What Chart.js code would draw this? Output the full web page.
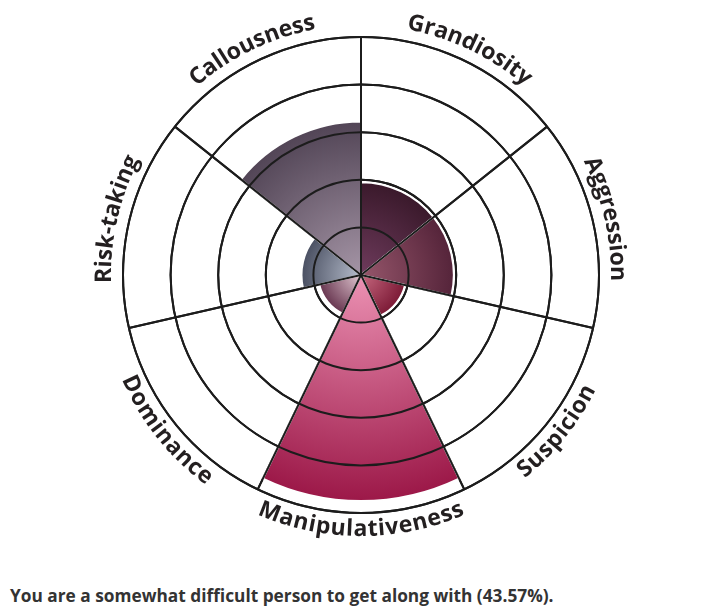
<!DOCTYPE html>
<html><head><meta charset="utf-8">
<script src="https://cdn.jsdelivr.net/npm/chart.js@4"></script>
<style>
html,body{margin:0;padding:0;background:#fff;}
#wrap{position:absolute;left:0;top:0;width:713px;height:570px;}
#caption{position:absolute;left:10px;top:585px;margin:0;font:700 17.3px/22px "Open Sans",sans-serif;color:#333;white-space:nowrap;}
</style></head><body>
<div id="wrap"><canvas id="c"></canvas></div>
<p id="caption">You are a somewhat difficult person to get along with (43.57%).</p>
<script>
const categories = ['Grandiosity','Aggression','Suspicion','Manipulativeness','Dominance','Risk-taking','Callousness'];
const scores = [39, 39, 19, 95, 18, 25, 64.5];
const ringTicks = [0, 20, 40, 60, 80, 100];
const innerColors = ['#6e3b5c','#96566b','#c6687f','#ec92b4','#e2c8d2','#b6bdcc','#a595a6'];
const outerColors = ['#3a192b','#55243a','#7c1a36','#9c1848','#683650','#4a5062','#524556'];

function sectorFill(ctx) {
  const i = ctx.dataIndex;
  const chart = ctx.chart;
  const s = chart.scales && chart.scales.r;
  if (i === undefined) return outerColors[0];
  if (!s || !chart.chartArea || s.xCenter === undefined) return outerColors[i];
  const r = Math.max(1, s.getDistanceFromCenterForValue(scores[i]));
  const g = chart.ctx.createRadialGradient(s.xCenter, s.yCenter, 0, s.xCenter, s.yCenter, r);
  g.addColorStop(0, innerColors[i]);
  g.addColorStop(1, outerColors[i]);
  return g;
}

// draw the radial grid again on top of the filled sectors
const gridOnTop = {
  id: 'gridOnTop',
  afterDatasetsDraw(chart) {
    const s = chart.scales.r;
    const ctx = chart.ctx;
    ctx.save();
    if (typeof s.drawGrid === 'function') {
      s.drawGrid();
    }
    ctx.restore();
  }
};

const curvedLabels = {
  id: 'curvedLabels',
  afterDraw(chart) {
    const s = chart.scales.r;
    const ctx = chart.ctx;
    const n = chart.data.labels.length;
    const half = Math.PI / n;
    ctx.save();
    ctx.font = '700 23px "Open Sans"';
    ctx.fillStyle = '#231f20';
    ctx.textAlign = 'center';
    ctx.textBaseline = 'alphabetic';
    const spacing = 0.3;
    chart.data.labels.forEach((label, i) => {
      const theta = s.getIndexAngle(i) + half;
      const ang = ((theta % (2 * Math.PI)) + 2 * Math.PI) % (2 * Math.PI);
      const bottom = ang > Math.PI / 2 && ang < 3 * Math.PI / 2;
      const R = s.drawingArea + (bottom ? 23 : 12);
      const chars = Array.from(label);
      const widths = chars.map(c => ctx.measureText(c).width);
      const total = widths.reduce((a, b) => a + b, 0) + spacing * (chars.length - 1);
      const Rm = bottom ? R - 8 : R + 8;
      let off = 0;
      chars.forEach((c, k) => {
        const mid = (off + widths[k] / 2 - total / 2) / Rm;
        const a = bottom ? theta - mid : theta + mid;
        const x = s.xCenter + R * Math.sin(a);
        const y = s.yCenter - R * Math.cos(a);
        ctx.save();
        ctx.translate(x, y);
        ctx.rotate(bottom ? a - Math.PI : a);
        ctx.fillText(c, 0, 0);
        ctx.restore();
        off += widths[k] + spacing;
      });
    });
    ctx.restore();
  }
};

function draw() {
  new Chart(document.getElementById('c'), {
    type: 'polarArea',
    data: {
      labels: categories,
      datasets: [{
        data: scores,
        backgroundColor: sectorFill,
        borderColor: '#ffffff',
        borderWidth: 2
      }]
    },
    options: {
      responsive: true,
      maintainAspectRatio: false,
      animation: false,
      layout: { padding: { left: 123, right: 114, top: 37, bottom: 57 } },
      plugins: { legend: { display: false }, tooltip: { enabled: false } },
      scales: {
        r: {
          min: 0,
          max: 100,
          startAngle: 0,
          afterBuildTicks: (scale) => { scale.ticks = ringTicks.map(v => ({ value: v })); },
          ticks: { display: false },
          grid: { circular: true, color: '#1c1c1c', lineWidth: 2 },
          angleLines: { display: true, color: '#1c1c1c', lineWidth: 2 },
          pointLabels: { display: false }
        }
      }
    },
    plugins: [gridOnTop, curvedLabels]
  });
}
if (document.fonts && document.fonts.load) {
  document.fonts.load('700 23px "Open Sans"').then(draw, draw);
} else { draw(); }
</script>
</body></html>
